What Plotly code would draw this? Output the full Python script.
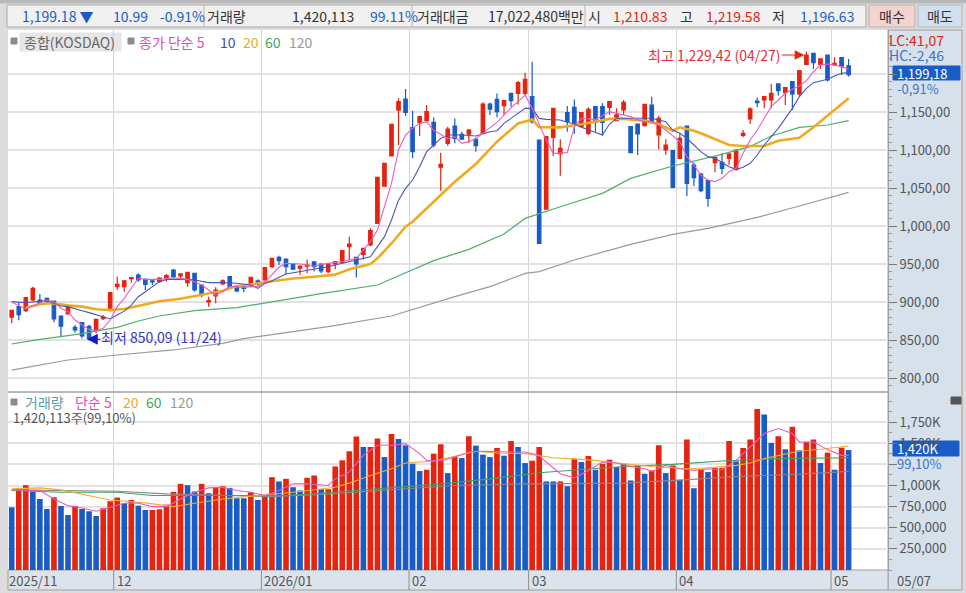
import plotly.graph_objects as go

# candles, oldest first (2025/11 .. 2026/05/07)
opens = [880, 894, 888.6, 902.7, 902.6, 904.8, 901.3, 881.6, 884.2, 866.7,
         872.8, 868, 862.3, 878, 888.6, 920.2, 920.2, 930.7, 935.5, 929.8,
         928, 926.8, 932.5, 942.1, 934.2, 925.5, 937.7, 922.4, 900, 907.9,
         923.7, 933.4, 921.1, 920.2, 921.5, 928, 929, 946.5, 958.8, 956.6,
         950, 944.7, 947.3, 953, 950, 939.9, 950, 951.7, 972.8, 958.8,
         962.7, 975, 1003.5, 1052.6, 1092.1, 1152.6, 1167.1, 1129.4, 1136, 1138.6,
         1136.4, 1077.6, 1108.8, 1131.6, 1120.6, 1121, 1114, 1121.9, 1160.5, 1166.6,
         1158.3, 1174.5, 1174.5, 1174.5, 1170.2, 1113, 1022.3, 1116.6, 1095.2, 1149.1,
         1156.1, 1130.7, 1121.9, 1157, 1157, 1156.2, 1138.6, 1152.7, 1130.7, 1134.2,
         1132, 1159.2, 1119.8, 1100, 1099.1, 1089, 1131.6, 1080.3, 1068.4, 1059.7,
         1083.4, 1083.8, 1089, 1074.6, 1119.3, 1140.8, 1164.5, 1165.8, 1165.8, 1186.9,
         1175.5, 1190, 1173.7, 1212.7, 1227.2, 1212.7, 1225, 1211.9, 1221.5, 1210.83]
highs = [889, 900, 906, 920, 910.5, 906, 901.3, 881.6, 896, 869.8,
         872.8, 870, 877.2, 883, 912.3, 933.4, 928, 933.4, 937.7, 931.2,
         929.8, 932.5, 936.9, 943.4, 937.7, 939, 937.7, 922.4, 907, 919.3,
         929.8, 933.4, 921.1, 923.7, 932.5, 929.8, 945.2, 957.5, 961, 956.6,
         950.5, 948, 956.1, 953, 950.9, 950.9, 953.9, 967.5, 985.9, 959.6,
         970.6, 996.9, 1064, 1082.4, 1133.7, 1168, 1180.2, 1151.7, 1144.7, 1159.2,
         1143, 1096.5, 1130.7, 1141.6, 1124.1, 1127.6, 1116.6, 1162.7, 1162.3, 1174.5,
         1165.8, 1174.5, 1190.8, 1201.7, 1216.2, 1113, 1117.5, 1154.8, 1114, 1157.9,
         1166.6, 1150, 1156.2, 1157, 1161.4, 1163.6, 1154.8, 1165.8, 1130.7, 1134.2,
         1160.1, 1170.2, 1145.2, 1114, 1099.1, 1122, 1131.6, 1083.4, 1070.2, 1059.7,
         1090.4, 1095.6, 1095.6, 1100, 1126.3, 1156.2, 1168.9, 1171, 1186.9, 1186.9,
         1182, 1190, 1204.4, 1229.42, 1228, 1219.8, 1225, 1222, 1221.5, 1219.58]
lows = [872, 876, 887, 901, 896, 898.3, 873.3, 854.4, 884, 859.7,
        852, 850.09, 858.8, 876.3, 888.6, 915.8, 913.6, 925.5, 926.8, 915.8,
        922.4, 925.5, 926.8, 931.2, 929.8, 920.2, 913.6, 906.2, 893.9, 898.3,
        922.4, 917.1, 912.7, 912.7, 919.3, 921.1, 928, 944.3, 948.7, 936.8,
        942, 935.5, 937.7, 940, 937.7, 937.7, 943, 950.9, 955.2, 932.4,
        956.1, 973.7, 1002.6, 1052, 1092, 1106.6, 1144.7, 1089, 1118.4, 1137.3,
        1103.5, 1046.5, 1105.7, 1108.8, 1113.1, 1109.6, 1097.8, 1121, 1146, 1143,
        1146, 1157, 1160, 1172.3, 1135, 977, 1022, 1092, 1066.2, 1124.1,
        1121, 1130, 1119.8, 1124.1, 1118.9, 1146.1, 1138, 1146.1, 1095.6, 1093.4,
        1131, 1134.2, 1100.9, 1093.4, 1049.6, 1089, 1039.5, 1052.7, 1044.3, 1025.5,
        1070.6, 1068, 1080.3, 1072.8, 1116.7, 1134.2, 1156.2, 1154.8, 1154.8, 1171.5,
        1159.2, 1152.7, 1171.5, 1211.9, 1206.6, 1206.6, 1190, 1211, 1198.7, 1196.63]
closes = [889, 883.4, 905.7, 918, 898.3, 900.5, 877.7, 868.4, 892.6, 863.2,
          855.3, 852, 877.2, 880.3, 912.3, 923.3, 928, 932, 929, 923.3,
          926.3, 931.6, 934.7, 933.4, 936.9, 939, 915.8, 909.2, 901.8, 915.8,
          928, 918.9, 914.5, 918, 932.5, 923.7, 945.2, 957.5, 954.4, 946.5,
          943.4, 947.3, 948.6, 946.5, 940.8, 950, 953, 967.5, 976.3, 950,
          970.6, 993.8, 1064, 1082.4, 1133.7, 1163.6, 1149.5, 1097.8, 1143.8, 1150.4,
          1106.6, 1081, 1127.6, 1115.3, 1114.4, 1126.3, 1105.7, 1160.5, 1153.9, 1150.4,
          1164.9, 1164.9, 1188.6, 1193, 1137.3, 977.2, 1117.5, 1154.8, 1102.2, 1137.3,
          1135.1, 1149.1, 1153.5, 1136.4, 1136.4, 1163.6, 1146.1, 1162.7, 1096.5, 1121.1,
          1160.1, 1136, 1141.7, 1106.6, 1050.9, 1115.4, 1056.2, 1063.6, 1046.5, 1036.4,
          1090.4, 1075.9, 1094.8, 1100, 1122, 1154, 1162.3, 1170.2, 1174.6, 1178.1,
          1182, 1173.7, 1204.4, 1225, 1214.9, 1219.8, 1192.1, 1214, 1209.7, 1199.18]

# volume in thousands of shares
volume = [742, 972, 1004, 929, 841, 722, 861, 758, 651, 758,
          722, 695, 639, 730, 814, 857, 790, 829, 762, 710,
          710, 718, 774, 925, 1020, 1004, 929, 1020, 909, 976,
          992, 972, 849, 849, 921, 829, 869, 1099, 1048, 1079,
          980, 941, 1091, 1119, 956, 956, 1226, 1298, 1405, 1579,
          1456, 1456, 1556, 1337, 1611, 1552, 1476, 1258, 1171, 1187,
          1377, 1488, 1147, 1345, 1325, 1583, 1472, 1365, 1337, 1445,
          1353, 1528, 1456, 1266, 1294, 1456, 1048, 1048, 1048, 992,
          1318, 1278, 1349, 1187, 1258, 1306, 1218, 1258, 1060, 1238,
          1139, 1179, 1476, 1147, 1238, 1068, 1544, 968, 1191, 1159,
          1210, 1210, 1528, 1286, 1445, 1544, 1905, 1841, 1504, 1583,
          1429, 1695, 1417, 1516, 1544, 1266, 1389, 1187, 1448, 1420.113]
vol_up = ("BRRBBBRBBR" "BBBRRRBRBB" "RRRRRBBRBR" "RBBBRBRRBR" "BBRRBRRRRR" "BRRBRBBBBR"
          "RRBRBRBBBR" "BRBBRRBBRB" "RBRBRRBRBR" "BRRBRBRBRB" "RRRBRRRBBR" "BRBRRBRBRB")

ma5_x = [0, 2, 4, 5, 6, 7, 8, 9, 10, 11, 12, 13, 14, 15, 16, 17, 18, 19, 21, 23, 25, 26, 27, 28, 29, 30,
         31, 32, 33, 34, 35, 36, 37, 38, 39, 41, 43, 45, 47, 49, 51, 52, 53, 54, 55, 56, 57, 58, 59, 60,
         62, 63, 64, 65, 66, 67, 68, 69, 70, 71, 72, 73, 74, 75, 76, 77, 78, 79, 80, 81, 83, 85, 86, 87,
         88, 89, 90, 91, 92, 93, 94, 95, 96, 97, 98, 99, 100, 101, 102, 103, 104, 105, 106, 107, 108, 109,
         110, 111, 112, 113, 114, 115, 116, 117, 118, 119]
ma5 = [899.6, 890.8, 899, 902.7, 900.5, 891.7, 887.3, 876.3, 869.8, 864, 862.3, 865.4, 876.3, 893.9, 904.8,
       918, 931.2, 929.8, 929.8, 932, 929.8, 926.8, 922.4, 915.8, 909.2, 913.6,
       920.2, 920.2, 919.3, 920.2, 920, 926, 936, 946, 951, 950, 947, 950.9, 953, 957.4, 979.4, 994.7,
       1025.4, 1056, 1100, 1119.7, 1128.5, 1135, 1137, 1126,
       1115, 1117.5, 1108.8, 1111, 1115, 1121.9, 1128.5, 1136.4, 1146, 1155.7, 1163.6, 1172.3, 1154.8, 1132.9,
       1113, 1095.6, 1095.6, 1096.5, 1130.7, 1141.7, 1140, 1150.5, 1148.3, 1146,
       1143.9, 1139.5, 1137.3, 1137.3, 1132.9, 1126.3, 1118.4, 1111, 1091.3, 1080.3, 1067.1, 1060.5, 1058.4,
       1062.7, 1071.5, 1075.9, 1095.6, 1113.2, 1126.3, 1141.7, 1157, 1165.8,
       1174.6, 1179.8, 1184.2, 1191.2, 1203, 1211.9, 1213.2, 1211.9, 1209.7, 1206.2]

ma10_x = [0, 2, 5, 6, 7, 8, 9, 10, 11, 12, 13, 14, 15, 16, 17, 18, 19, 20, 21, 22, 25, 26, 27, 28, 30, 32, 34,
          35, 36, 37, 39, 41, 43, 45, 47, 49, 51, 52, 53, 54, 55, 56, 57, 58, 59, 60, 61, 62, 64, 66, 68, 69,
          70, 71, 72, 73, 74, 75, 76, 78, 79, 80, 81, 84, 85, 86, 88, 91, 93, 94, 95, 96, 97, 98, 99, 100,
          102, 103, 104, 105, 106, 107, 108, 109, 110, 111, 112, 113, 114, 115, 116, 117, 118, 119]
ma10 = [900.5, 899, 901.8, 898.3, 894.8, 893.9, 890.8, 888.6, 886, 882.9, 880.7, 877.7, 883, 888, 896, 907,
        913.6, 920.2, 926.8, 929.8, 930, 929, 926.8, 925.5, 925.5, 924.6, 922.4,
        918, 924.5, 928, 936.8, 939.9, 943, 946.5, 950.9, 955.2, 959.6, 972.8, 986, 1007.9, 1034, 1049.5,
        1060.5, 1078, 1097.8, 1106.6, 1115.3, 1119.7, 1119.7, 1118.4, 1124, 1125.4,
        1135, 1141.6, 1148.2, 1154.8, 1154.8, 1141.6, 1140.3, 1139.4, 1136.4, 1134.2, 1130, 1119.8, 1134.2,
        1141.7, 1141.7, 1141.7, 1137.3, 1126.3, 1122, 1115.4, 1106.6, 1097.8, 1091.3, 1089,
        1078, 1074.6, 1077.2, 1082.5, 1093.4, 1106.6, 1117.6, 1128.5, 1141.7, 1154.8, 1170.2, 1181.2, 1188.6,
        1191.2, 1193, 1197.4, 1200.9, 1201.8]

ma20_x = [2, 4, 5, 6, 8, 10, 12, 14, 16, 18, 21, 24, 26, 28, 30, 32, 34, 36, 38, 40, 43, 46, 48, 51, 52, 54, 56,
          57, 60, 63, 66, 69, 72, 74, 75, 78, 81, 85, 87, 90, 92, 94, 95, 97, 98, 102, 104, 107, 109, 112,
          114, 116, 118, 119]
ma20 = [892.6, 897, 898, 898, 895.6, 893.9, 890.4, 889.5, 890.8, 894.8, 900.9, 904.4, 907.9, 911.4, 914.9,
        921, 923, 926, 928.5, 931, 933.3, 936, 943, 950, 957.4, 977, 999,
        1005.7, 1032, 1058.3, 1081.6, 1111, 1135, 1140.3, 1130, 1129.8, 1134, 1141, 1141, 1138.4,
        1134.2, 1125.4, 1129.8, 1125.4, 1122, 1106.6, 1105.3, 1105.3, 1112.3, 1116,
        1130, 1145, 1160, 1168]

ma60_x = [0, 4, 8, 10, 15, 18, 21, 26, 32, 38, 41, 44, 52, 57, 60, 65, 70, 73, 75, 78, 84, 88, 94, 100, 105, 108, 112, 116, 119]
ma60 = [844.8, 850.9, 855.7, 858.4, 866.7, 875, 881.6, 888.6, 892.6, 901.7, 907, 911, 922.4, 942, 954.4, 969.3,
        989.5, 1010, 1015.8, 1025.4, 1043, 1062.7, 1079, 1092, 1104.4, 1118.4, 1129.8, 1132.9, 1138.6]

ma120_x = [0, 8, 15, 23, 30, 33, 35, 45, 54, 57, 63, 68, 73, 75, 78, 80, 88, 94, 99, 106, 112, 119]
ma120 = [810.5, 823.7, 830.3, 836.9, 845.6, 851.8, 854.4, 867.6, 881.6, 890.4, 907, 920.2, 937.7, 939.9, 948.7,
         955.3, 975.9, 989, 997, 1011.4, 1026.3, 1044.3]

vma5_x = [0, 4, 6, 8, 10, 12, 14, 16, 18, 20, 22, 24, 26, 28, 30, 32, 34, 36, 38, 40, 42, 44, 45, 46, 48, 49, 50,
          52, 54, 56, 58, 59, 61, 63, 65, 67, 69, 71, 73, 75, 76, 78, 80, 82, 84, 86, 88, 90, 91, 93, 95, 97,
          99, 101, 103, 105, 107, 109, 111, 112, 114, 116, 118, 119]
vma5 = [948, 941, 841, 762, 734, 695, 742, 790, 790, 750, 750, 841, 921, 972, 980, 941, 921, 881, 941, 1020,
        1020, 1012, 1000, 1079, 1159, 1258, 1357,
        1476, 1476, 1496, 1377, 1298, 1290, 1337, 1397, 1405, 1397, 1397, 1397, 1357, 1278, 1139, 1091, 1179,
        1278, 1266, 1226, 1198, 1167, 1238, 1198, 1179,
        1198, 1187, 1298, 1456, 1615, 1675, 1615, 1516, 1516, 1425, 1357, 1357]
vma20_x = [0, 4, 7, 11, 14, 19, 23, 26, 30, 35, 40, 46, 48, 51, 54, 56, 60, 63, 66, 69, 73, 77, 81, 83, 87, 91, 96,
           99, 103, 105, 107, 109, 112, 115, 119]
vma20 = [960, 972, 948, 881, 829, 794, 750, 790, 841, 881, 921, 980, 1028, 1119, 1198, 1266, 1290, 1345, 1405,
         1385, 1377, 1329, 1306, 1298, 1258, 1226, 1198, 1210, 1238, 1266, 1318, 1357, 1409, 1429, 1468]
vma60_x = [0, 7, 15, 20, 27, 39, 44, 54, 61, 68, 75, 82, 87, 94, 101, 109, 119]
vma60 = [941, 921, 921, 881, 881, 881, 909, 972, 1020, 1079, 1151, 1195, 1226, 1250, 1290, 1318, 1329]
vma120_x = [0, 15, 22, 37, 44, 54, 63, 73, 82, 87, 95, 103, 111, 119]
vma120 = [948, 933, 901, 869, 893, 952, 1000, 1020, 1020, 1028, 1064, 1107, 1131, 1167]

# first trading day of each month on the index axis
month_pos = [14.5, 35.5, 56.5, 73.5, 94.5, 116.5]
month_labels = ["12", "2026/01", "02", "03", "04", "05"]

price_ticks = [800, 850, 900, 950, 1000, 1050, 1100, 1150, 1200]
price_labels = ["800,00", "850,00", "900,00", "950,00", "1,000,00", "1,050,00", "1,100,00", "1,150,00", ""]
vol_ticks = [250, 500, 750, 1000, 1250, 1500, 1750]
vol_labels = ["250,000", "500,000", "750,000", "1,000K", "", "1,500K", "1,750K"]

RED = "#e5230f"
BLUE = "#1a5cc6"
GRID = "#e2e2e2"
FONT = "Noto Sans CJK KR"
W, H = 966, 593
xs = list(range(len(closes)))

fig = go.Figure()
fig.add_trace(go.Candlestick(x=xs, open=opens, high=highs, low=lows, close=closes, whiskerwidth=0,
                             increasing=dict(line=dict(color=RED, width=1.2), fillcolor=RED),
                             decreasing=dict(line=dict(color=BLUE, width=1.2), fillcolor=BLUE),
                             xaxis="x", yaxis="y"))
for mx, my, col, wd in [(ma120_x, ma120, "#9a9a9a", 1.2), (ma60_x, ma60, "#4fae6c", 1.2),
                        (ma20_x, ma20, "#efab1f", 2.6), (ma10_x, ma10, "#4a57b8", 1.1),
                        (ma5_x, ma5, "#e85cc4", 1.1)]:
    fig.add_trace(go.Scatter(x=mx, y=my, mode="lines", line=dict(color=col, width=wd), xaxis="x", yaxis="y"))

fig.add_trace(go.Bar(x=xs, y=volume, width=0.8, marker=dict(color=[RED if c == "R" else BLUE for c in vol_up], line_width=0),
                     xaxis="x2", yaxis="y2"))
for mx, my, col, wd in [(vma120_x, vma120, "#8a8a8a", 1.1), (vma60_x, vma60, "#3fa45f", 1.1),
                        (vma20_x, vma20, "#f3ad2b", 1.1), (vma5_x, vma5, "#e85cc4", 1.1)]:
    fig.add_trace(go.Scatter(x=mx, y=my, mode="lines", line=dict(color=col, width=wd), xaxis="x2", yaxis="y2"))


def box(x0, y0, x1, y1, fill, line=None):
    return dict(type="rect", xref="paper", yref="paper", x0=x0 / W, x1=x1 / W, y0=1 - y1 / H, y1=1 - y0 / H,
                fillcolor=fill, line=dict(color=line or fill, width=1), layer="below")


def label(x, y, text, color="#333333", size=14, anchor="left"):
    return dict(xref="paper", yref="paper", x=x / W, y=1 - y / H, text=text, showarrow=False, xanchor=anchor,
                yanchor="middle", font=dict(family=FONT, size=size, color=color), borderpad=0, borderwidth=0)


shapes = [
    box(0, 0, 966, 3, "#b9b9b9"),
    box(7, 5, 866, 27, "#f1f1f1", "#a9a9a9"),
    box(869, 5, 915, 27, "#f4d2cd", "#b5b5b5"),
    box(918, 5, 962, 27, "#cfe0f0", "#b5b5b5"),
    box(888, 30, 962, 590, "#d6e1ec", "#a0a0a0"),
    box(8, 570, 888, 590, "#dce3ed", "#a0a0a0"),
    box(893, 66, 960, 80, BLUE),
    box(893, 441, 959, 456, BLUE),
    box(951, 397, 961, 404, "#555555"),
    box(20, 33, 121, 51, "#e6e6e6"),
    box(11, 38, 17, 44, "#8c8c8c"),
    box(128, 38, 134, 44, "#8c8c8c"),
    box(11, 399, 17, 405, "#8c8c8c"),
    dict(type="line", xref="paper", yref="paper", x0=8 / W, x1=888 / W, y0=1 - 392 / H, y1=1 - 392 / H,
         line=dict(color="#a0a0a0", width=1.5)),
]
for c in [204, 412, 585]:
    shapes.append(dict(type="line", xref="paper", yref="paper", x0=c / W, x1=c / W, y0=1 - 27 / H, y1=1 - 5 / H,
                       line=dict(color="#b5b5b5", width=1)))
for m in month_pos:
    shapes.append(dict(type="line", xref="x", yref="paper", x0=m, x1=m, y0=1 - 590 / H, y1=1 - 570 / H,
                       line=dict(color="#8f8f8f", width=1)))

annots = [
    label(22, 16, "1,199.18 ▼", BLUE), label(113, 16, "10.99", BLUE), label(160, 16, "-0.91%", BLUE),
    label(207, 16, "거래량"), label(292, 16, "1,420,113"), label(370, 16, "99.11%", BLUE),
    label(417, 16, "거래대금"), label(488, 16, "17,022,480백만"), label(588, 16, "시"),
    label(613, 16, "1,210.83", RED), label(680, 16, "고"), label(706, 16, "1,219.58", RED),
    label(772, 16, "저"), label(800, 16, "1,196.63", BLUE), label(892, 16, "매수", anchor="center"),
    label(940, 16, "매도", anchor="center"),
    label(24, 42, "종합(KOSDAQ)", "#666666"), label(139, 42, "종가 단순 5", "#e04cb8"),
    label(220, 42, "10", "#3d50b5"), label(243, 42, "20", "#efab1f"), label(265, 42, "60", "#3fa45f"),
    label(289, 42, "120", "#999999"),
    label(25, 402, "거래량", "#5a9e9e"), label(75, 402, "단순 5", "#e04cb8"), label(123, 402, "20", "#efab1f"),
    label(146, 402, "60", "#3fa45f"), label(170, 402, "120", "#999999"),
    label(13, 417, "1,420,113주(99,10%)", "#555555", 13),
    label(889, 40, "LC:41,07", RED), label(889, 55, "HC:-2,46", "#3d74c8"),
    label(897, 73, "1,199,18", "#ffffff", 13), label(897, 88, "-0,91%", "#3d74c8", 13),
    label(897, 448, "1,420K", "#ffffff", 13), label(897, 463, "99,10%", "#3d74c8", 13),
    label(648, 55, "최고 1,229,42 (04/27)", "#e0303a"), label(101, 337, "최저 850,09 (11/24)", "#3338c4"),
    label(9, 580, "2025/11", "#555555", 13), label(897, 580, "05/07", "#555555", 13),
    dict(x=112.7, y=1225, xref="x", yref="y", ax=-24, ay=0, text="", showarrow=True, arrowhead=2, arrowsize=1.6,
         arrowwidth=1.2, arrowcolor=RED),
    dict(x=10.7, y=851, xref="x", yref="y", ax=15, ay=0, text="", showarrow=True, arrowhead=2, arrowsize=1.8,
         arrowwidth=1.2, arrowcolor="#1414c8"),
]
for m, t in zip(month_pos, month_labels):
    annots.append(dict(x=m, xref="x", y=1 - 580 / H, yref="paper", text=t, showarrow=False, xanchor="left", xshift=1,
                       yanchor="middle", font=dict(family=FONT, size=13, color="#555555")))

xrange = [-0.53, 124.6]
xcommon = dict(range=xrange, tickvals=month_pos, showticklabels=False, showgrid=True, gridcolor="#d5d5d5",
               gridwidth=1.2, zeroline=False, ticks="", rangeslider=dict(visible=False),
               domain=[8 / W, 888 / W])
ycommon = dict(side="right", showgrid=True, gridcolor=GRID, gridwidth=1.5, zeroline=False, ticks="outside",
               ticklen=8, tickcolor="#777777", showline=True, linecolor="#a0a0a0",
               tickfont=dict(family=FONT, size=13, color="#555555"))
fig.update_layout(
    width=W, height=H, margin=dict(l=0, r=0, t=0, b=0), showlegend=False, barmode="overlay",
    paper_bgcolor="#dcdcdc", plot_bgcolor="#ffffff", shapes=shapes, annotations=annots,
    xaxis=dict(xcommon, anchor="y"),
    xaxis2=dict(xcommon, anchor="y2"),
    yaxis=dict(ycommon, anchor="x", domain=[1 - 392 / H, 1 - 30 / H], range=[781.6, 1257.9], tickvals=price_ticks,
               ticktext=price_labels, minor=dict(ticks="outside", ticklen=3, dtick=10, tickcolor="#999999")),
    yaxis2=dict(ycommon, anchor="x2", domain=[1 - 570 / H, 1 - 392 / H], range=[0, 2107], tickvals=vol_ticks,
                ticktext=vol_labels, minor=dict(ticks="outside", ticklen=3, dtick=125, tickcolor="#999999")),
)

fig.write_html("out.html", config=dict(displayModeBar=False), post_script="document.body.style.margin='0'")
